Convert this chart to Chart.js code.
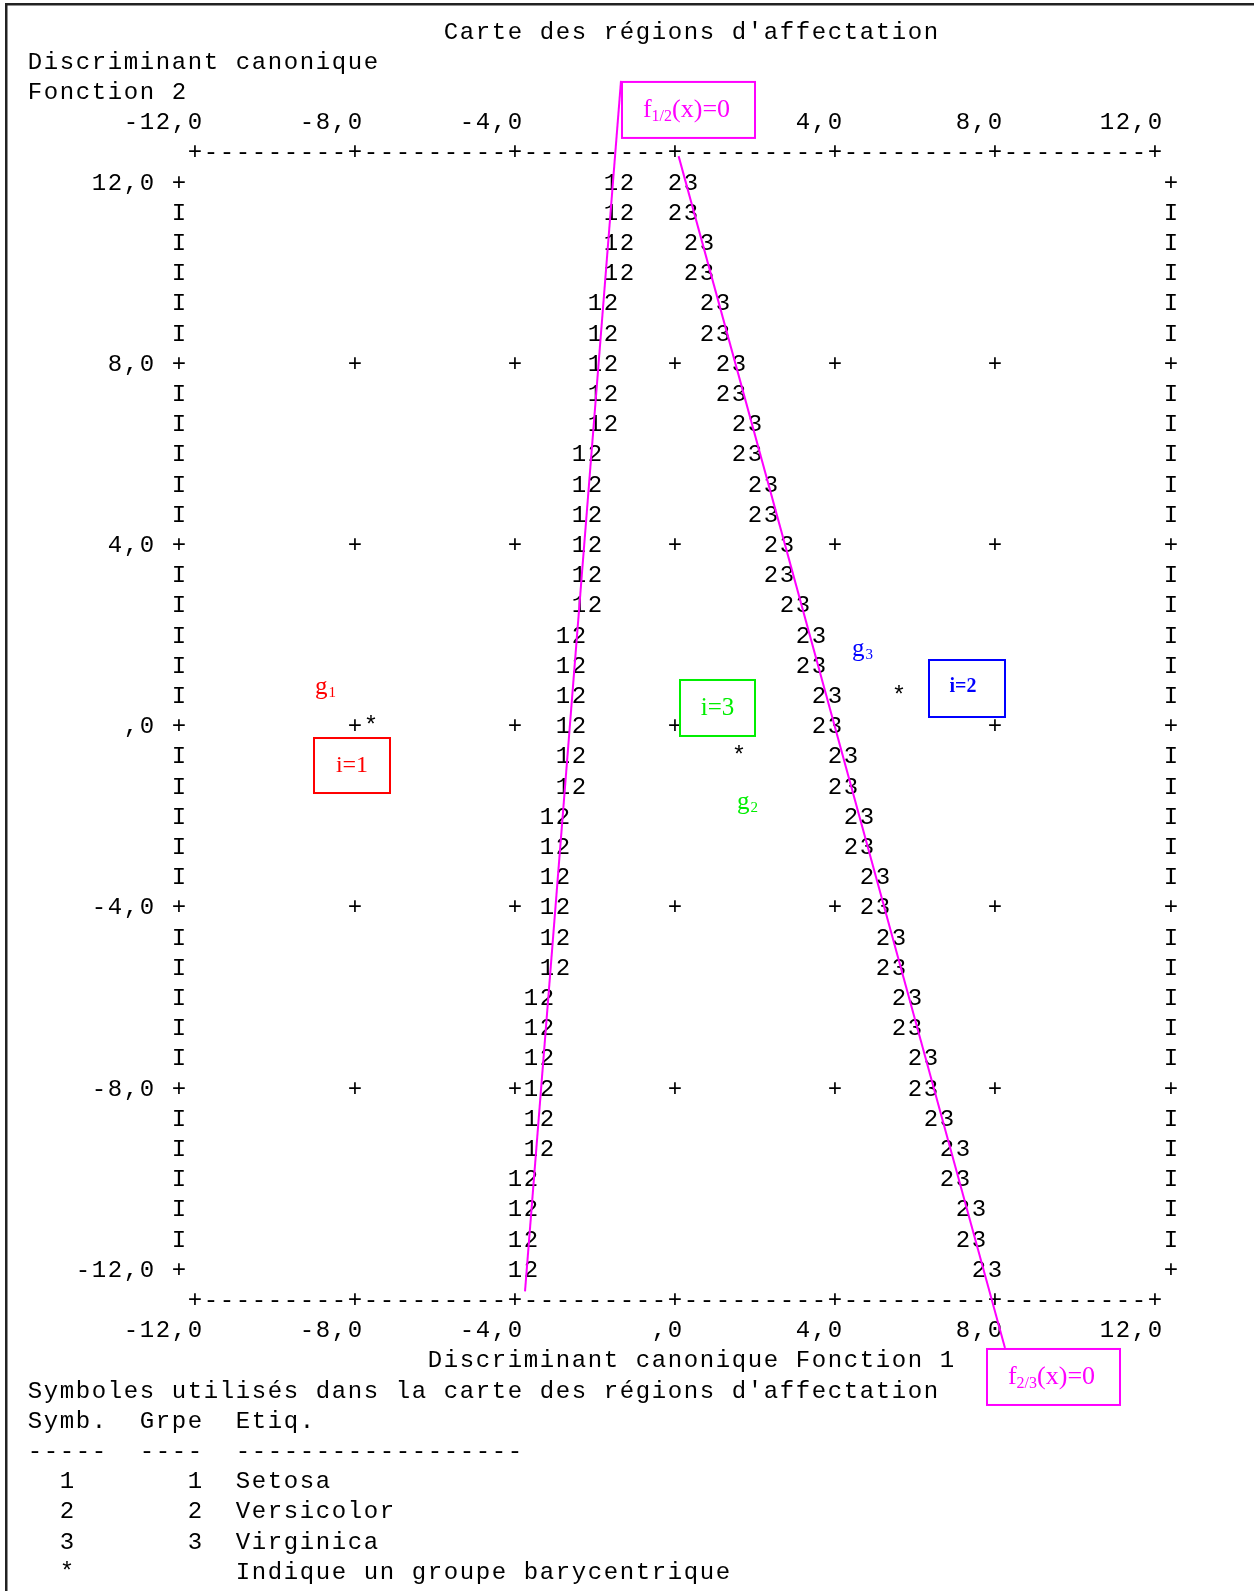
<!DOCTYPE html>
<html lang="fr">
<head>
<meta charset="utf-8">
<title>Carte des régions d'affectation</title>
<script src="https://cdn.jsdelivr.net/npm/chart.js@4.4.1/dist/chart.umd.min.js"></script>
<style>
  html, body { margin: 0; padding: 0; background: #fff; }
  #wrap { position: relative; width: 1254px; height: 1591px; overflow: hidden; }
  canvas { display: block; }
</style>
</head>
<body>
<div id="wrap"><canvas id="map" width="1254" height="1591"></canvas></div>
<script>
/* territorial map, canonical discriminant functions 1 x 2 (iris) */
(function () {
  var TITLE = "Carte des régions d'affectation";
  var Y_TITLE = ['Discriminant canonique', 'Fonction 2'];
  var X_TITLE = 'Discriminant canonique Fonction 1';
  var TICKS = [-12, -8, -4, 0, 4, 8, 12];
  var TICK_LABELS = ['-12,0', '-8,0', '-4,0', ',0', '4,0', '8,0', '12,0'];

  // one value per printed map line, from 12,0 down to -12,0 : x where the pair sits
  var EDGE_12 = [-1.4, -1.4, -1.4, -1.4,
    -1.8, -1.8, -1.8, -1.8, -1.8,
    -2.2, -2.2, -2.2, -2.2, -2.2, -2.2,
    -2.6, -2.6, -2.6, -2.6, -2.6, -2.6,
    -3.0, -3.0, -3.0, -3.0, -3.0, -3.0,
    -3.4, -3.4, -3.4, -3.4, -3.4, -3.4,
    -3.8, -3.8, -3.8, -3.8];
  var EDGE_23 = [0.2, 0.2, 0.6, 0.6, 1.0, 1.0, 1.4, 1.4, 1.8, 1.8, 2.2, 2.2, 2.6, 2.6,
    3.0, 3.4, 3.4, 3.8, 3.8, 4.2, 4.2, 4.6, 4.6, 5.0, 5.0, 5.4, 5.4, 5.8, 5.8,
    6.2, 6.2, 6.6, 7.0, 7.0, 7.4, 7.4, 7.8];
  var CENTROID_X = [-7.6, 1.6, 5.6];
  var CENTROID_Y = [0, -0.67, 0.67];
  // hand drawn boundaries f1/2(x)=0 and f2/3(x)=0
  var F12_X = [-1.35, -3.75], F12_Y = [14.22, -12.5];
  var F23_X = [0.09, 8.25], F23_Y = [12.56, -13.75];

  var LEGEND = [
    "Symboles utilisés dans la carte des régions d'affectation",
    'Symb.  Grpe  Etiq.',
    '-----  ----  ------------------',
    '  1       1  Setosa',
    '  2       2  Versicolor',
    '  3       3  Virginica',
    '  *          Indique un groupe barycentrique'
  ];

  var COL = 0.4, ROW = 2 / 3;   // data units per character cell / per printed line
  var MONO = '24px "Liberation Mono", "DejaVu Sans Mono", monospace';
  var SERIF = '"Liberation Serif", "DejaVu Serif", serif';
  var BASE = 8;                 // baseline is half a digit under the line centre

  // overlays (data coords for the top-left corner, sizes in px)
  var BOXES = [
    { x: -1.35, y: 14.22, w: 135, h: 58, color: '#ff00ff', parts: [['f', 26, 0], ['1/2', 16, 4], ['(x)=0', 26, 0]], dx: -2, dy: 7 },
    { x: 7.775, y: -13.75, w: 135, h: 58, color: '#ff00ff', parts: [['f', 26, 0], ['2/3', 16, 4], ['(x)=0', 26, 0]], dx: -2, dy: 7 },
    { x: -9.05, y: -0.263, w: 78, h: 57, color: '#ff0000', parts: [['i=1', 24, 0]], dx: 0, dy: 6 },
    { x: 0.1, y: 1.018, w: 77, h: 58, color: '#00ee00', parts: [['i=3', 25, 0]], dx: 0, dy: 7 },
    { x: 6.325, y: 1.459, w: 78, h: 59, color: '#0000ff', bold: true, parts: [['i=2', 20, 0]], dx: -4, dy: 3 }
  ];
  var TAGS = [
    { x: -9.0, y: 0.687, color: '#ff0000', sub: '1' },
    { x: 1.55, y: -1.863, color: '#00ee00', sub: '2' },
    { x: 4.425, y: 1.525, color: '#0000ff', sub: '3' }
  ];

  function rowY(r) { return 12 - r * ROW; }
  function pts(xs, ys) { return xs.map(function (x, i) { return { x: x, y: ys[i] }; }); }

  var textMap = {
    id: 'textMap',
    beforeDatasetsDraw: function (chart) {
      var ctx = chart.ctx, xs = chart.scales.x, ys = chart.scales.y;
      function cx(c) { return xs.getPixelForValue((c - 40) * COL); }
      function put(s, col, row) {
        var y = ys.getPixelForValue(rowY(row)) + BASE;
        for (var i = 0; i < s.length; i++) if (s[i] !== ' ') ctx.fillText(s[i], cx(col + i), y);
      }
      ctx.save();
      ctx.font = MONO; ctx.fillStyle = '#000';
      ctx.textAlign = 'center'; ctx.textBaseline = 'alphabetic';

      put(TITLE, 26, -5);
      put(Y_TITLE[0], 0, -4);
      put(Y_TITLE[1], 0, -3);

      var ruler = '';
      for (var c = 10; c <= 70; c++) ruler += (c % 10 === 0) ? '+' : '-';
      put(ruler, 10, -1);
      put(ruler, 10, 37);
      TICKS.forEach(function (t, i) {
        var tc = 40 + Math.round(t / COL), lab = TICK_LABELS[i];
        put(lab, tc - lab.length + 1, -2);
        put(lab, tc - lab.length + 1, 38);
      });

      // cells taken by the boundary pairs, so grid crosses do not show under them
      var busy = {};
      [EDGE_12, EDGE_23].forEach(function (edge) {
        edge.forEach(function (x, r) {
          var c0 = 40 + Math.round((x - COL / 2) / COL);
          busy[r + ':' + c0] = busy[r + ':' + (c0 + 1)] = true;
        });
      });
      for (var r = 0; r < EDGE_12.length; r++) {
        var onTick = r % 6 === 0;
        put(onTick ? '+' : 'I', 9, r);
        put(onTick ? '+' : 'I', 71, r);
        if (!onTick) continue;
        var lab = TICK_LABELS[6 - r / 6];
        put(lab, 8 - lab.length, r);
        if (r === 0 || r === 36) continue;
        for (c = 20; c <= 60; c += 10) if (!busy[r + ':' + c]) put('+', c, r);
      }

      // boundary pairs and centroids, at their dataset points
      var half = (cx(1) - cx(0)) / 2;
      chart.data.datasets.forEach(function (ds, di) {
        if (!ds.glyph) return;
        chart.getDatasetMeta(di).data.forEach(function (el) {
          var y = el.y + BASE;
          if (ds.glyph.length === 2) {
            ctx.fillText(ds.glyph[0], el.x - half, y);
            ctx.fillText(ds.glyph[1], el.x + half, y);
          } else {
            ctx.fillText(ds.glyph, el.x, y);
          }
        });
      });

      LEGEND.forEach(function (s, i) { put(s, 0, 40 + i); });
      put(X_TITLE, 25, 39);
      ctx.restore();
    },
    afterDatasetsDraw: function (chart) {
      var ctx = chart.ctx, xs = chart.scales.x, ys = chart.scales.y;
      ctx.save();
      ctx.textBaseline = 'alphabetic'; ctx.textAlign = 'left';
      BOXES.forEach(function (b) {
        var x = xs.getPixelForValue(b.x), y = ys.getPixelForValue(b.y);
        ctx.fillStyle = '#fff';
        ctx.fillRect(x, y, b.w, b.h);
        ctx.strokeStyle = b.color; ctx.lineWidth = 2;
        ctx.strokeRect(x + 1, y + 1, b.w - 2, b.h - 2);
        var wt = b.bold ? 'bold ' : '', total = 0;
        b.parts.forEach(function (p) { ctx.font = wt + p[1] + 'px ' + SERIF; total += ctx.measureText(p[0]).width; });
        var tx = x + (b.w - total) / 2 + b.dx, ty = y + b.h / 2 + b.dy;
        ctx.fillStyle = b.color;
        b.parts.forEach(function (p) {
          ctx.font = wt + p[1] + 'px ' + SERIF;
          ctx.fillText(p[0], tx, ty + p[2]);
          tx += ctx.measureText(p[0]).width;
        });
      });
      TAGS.forEach(function (g) {
        var x = xs.getPixelForValue(g.x), y = ys.getPixelForValue(g.y);
        ctx.fillStyle = g.color;
        ctx.font = '25px ' + SERIF;
        ctx.fillText('g', x, y);
        var w = ctx.measureText('g').width;
        ctx.font = '15px ' + SERIF;
        ctx.fillText(g.sub, x + w + 1, y + 3);
      });
      // page frame (top and left rules)
      ctx.fillStyle = '#222';
      ctx.fillRect(5, 3, chart.width - 5, 2.5);
      ctx.fillRect(5, 3, 2.5, chart.height - 3);
      ctx.restore();
    }
  };

  var glyphSet = { pointRadius: 0, pointHoverRadius: 0, showLine: false };
  function glyphData(label, glyph, data) {
    return Object.assign({ label: label, glyph: glyph, data: data }, glyphSet);
  }
  function boundary(label, data) {
    return { label: label, data: data, showLine: true, borderColor: '#ff00ff', borderWidth: 2,
      pointRadius: 0, pointHoverRadius: 0, clip: false, fill: false, tension: 0 };
  }

  new Chart(document.getElementById('map').getContext('2d'), {
    type: 'scatter',
    data: {
      datasets: [
        glyphData('Frontière 1/2', '12', EDGE_12.map(function (x, r) { return { x: x, y: rowY(r) }; })),
        glyphData('Frontière 2/3', '23', EDGE_23.map(function (x, r) { return { x: x, y: rowY(r) }; })),
        glyphData('Barycentres', '*', pts(CENTROID_X, CENTROID_Y)),
        boundary('f1/2(x)=0', pts(F12_X, F12_Y)),
        boundary('f2/3(x)=0', pts(F23_X, F23_Y))
      ]
    },
    options: {
      responsive: false, devicePixelRatio: 1, animation: false, events: [],
      layout: { padding: { left: 195, right: 99, top: 181.5, bottom: 322.3 } },
      plugins: { legend: { display: false }, tooltip: { enabled: false }, title: { display: false } },
      scales: {
        x: { type: 'linear', min: -12, max: 12, display: false },
        y: { type: 'linear', min: -12, max: 12, display: false }
      }
    },
    plugins: [textMap]
  });
})();
</script>
</body>
</html>
